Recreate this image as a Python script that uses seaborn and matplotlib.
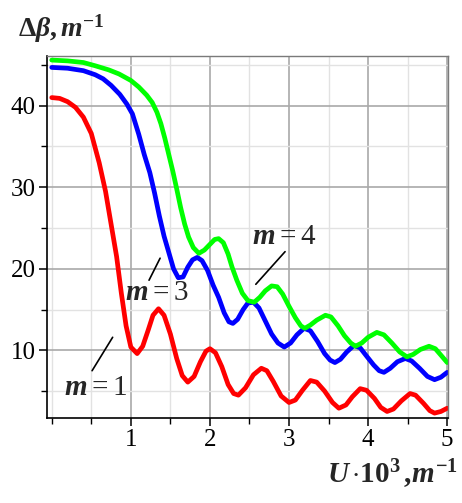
import numpy as np
import pandas as pd
import matplotlib
matplotlib.use("Agg")
import matplotlib.pyplot as plt
import seaborn as sns
from matplotlib.ticker import MultipleLocator, FixedLocator

# ---- data ----
x_m1 = [0.00, 0.10, 0.20, 0.30, 0.40, 0.50, 0.60, 0.68, 0.75, 0.82, 0.88, 0.94, 1.00, 1.08,
        1.15, 1.22, 1.28, 1.35, 1.42, 1.50, 1.58, 1.65, 1.72, 1.80, 1.88, 1.95, 2.00, 2.07,
        2.15, 2.23, 2.30, 2.36, 2.45, 2.55, 2.65, 2.72, 2.80, 2.90, 3.00, 3.08, 3.17, 3.27,
        3.35, 3.45, 3.55, 3.63, 3.72, 3.80, 3.90, 3.98, 4.08, 4.16, 4.24, 4.32, 4.42, 4.53,
        4.60, 4.70, 4.78, 4.84, 4.92, 5.00]
y_m1 = [41.0, 40.9, 40.5, 39.8, 38.6, 36.6, 33.0, 29.5, 25.5, 21.5, 17.0, 13.0, 10.4, 9.6,
        10.5, 12.5, 14.3, 15.1, 14.3, 12.0, 9.0, 6.9, 6.1, 6.8, 8.6, 9.9, 10.2, 9.7,
        8.0, 5.8, 4.7, 4.5, 5.4, 7.0, 7.8, 7.5, 6.2, 4.4, 3.6, 3.9, 5.1, 6.3,
        6.1, 5.0, 3.6, 2.9, 3.3, 4.3, 5.3, 5.1, 4.1, 3.0, 2.5, 2.8, 3.8, 4.7,
        4.5, 3.5, 2.6, 2.3, 2.5, 2.9]

x_m3 = [0.00, 0.20, 0.40, 0.55, 0.65, 0.75, 0.86, 0.95, 1.02, 1.10, 1.17, 1.24, 1.30, 1.36,
        1.42, 1.48, 1.54, 1.60, 1.66, 1.72, 1.78, 1.84, 1.90, 1.97, 2.04, 2.11, 2.18, 2.24,
        2.29, 2.35, 2.42, 2.48, 2.55, 2.62, 2.70, 2.78, 2.86, 2.94, 3.02, 3.10, 3.19, 3.27,
        3.36, 3.45, 3.52, 3.58, 3.65, 3.73, 3.82, 3.90, 3.98, 4.07, 4.14, 4.20, 4.28, 4.37,
        4.47, 4.55, 4.65, 4.75, 4.84, 4.92, 5.00]
y_m3 = [44.7, 44.6, 44.3, 43.8, 43.3, 42.5, 41.4, 40.2, 39.0, 36.5, 34.0, 31.8, 29.3, 26.5,
        24.0, 22.0, 20.0, 18.9, 19.0, 20.2, 21.1, 21.4, 21.0, 19.8, 18.0, 16.5, 14.6, 13.5,
        13.3, 13.8, 15.0, 15.8, 15.9, 15.2, 13.6, 12.0, 10.9, 10.4, 10.9, 11.9, 12.7, 12.4,
        11.1, 9.6, 8.8, 8.5, 8.9, 9.8, 10.6, 10.3, 9.3, 8.2, 7.5, 7.3, 7.8, 8.6,
        9.0, 8.7, 7.8, 6.8, 6.4, 6.7, 7.3]

x_m4 = [0.00, 0.20, 0.40, 0.55, 0.72, 0.85, 1.00, 1.10, 1.20, 1.27, 1.33, 1.38, 1.43, 1.48,
        1.53, 1.58, 1.63, 1.68, 1.73, 1.79, 1.86, 1.93, 2.00, 2.06, 2.11, 2.17, 2.23, 2.28,
        2.34, 2.41, 2.48, 2.56, 2.63, 2.70, 2.78, 2.85, 2.92, 3.00, 3.08, 3.15, 3.20, 3.27,
        3.35, 3.46, 3.53, 3.62, 3.70, 3.78, 3.84, 3.92, 4.00, 4.11, 4.20, 4.30, 4.40, 4.49,
        4.57, 4.66, 4.77, 4.85, 4.93, 5.00]
y_m4 = [45.6, 45.5, 45.3, 44.9, 44.4, 43.9, 43.1, 42.3, 41.3, 40.4, 39.2, 37.8, 36.0, 34.0,
        32.0, 29.8, 27.5, 25.5, 23.9, 22.6, 21.9, 22.3, 23.0, 23.6, 23.7, 23.2, 21.8, 20.2,
        18.6, 17.0, 16.1, 15.9, 16.5, 17.3, 17.9, 17.8, 16.9, 15.4, 14.0, 13.0, 12.7, 13.1,
        13.7, 14.3, 14.1, 13.0, 11.8, 10.9, 10.5, 10.9, 11.6, 12.2, 11.9, 10.9, 9.8, 9.2,
        9.5, 10.1, 10.5, 10.2, 9.3, 8.5]

series_names = ["m=1", "m=3", "m=4"]
series_colors = ["#ff0000", "#0000ff", "#00ff00"]
x_ticks = [1, 2, 3, 4, 5]
y_ticks = [10, 20, 30, 40]

df = pd.concat([
    pd.DataFrame({"U": x_m1, "dbeta": y_m1, "m": "m=1"}),
    pd.DataFrame({"U": x_m3, "dbeta": y_m3, "m": "m=3"}),
    pd.DataFrame({"U": x_m4, "dbeta": y_m4, "m": "m=4"}),
], ignore_index=True)

sns.set_theme(style="white")
plt.rcParams["mathtext.fontset"] = "custom"
plt.rcParams["mathtext.rm"] = "Liberation Serif"
plt.rcParams["mathtext.it"] = "Liberation Serif:italic:bold"
plt.rcParams["mathtext.bf"] = "Liberation Serif:bold"

fig = plt.figure(figsize=(4.62, 5.03), dpi=100)
ax = fig.add_axes([47/462, 1-418/503, (448-47)/462, (418-56)/503])

sns.lineplot(data=df, x="U", y="dbeta", hue="m", palette=dict(zip(series_names, series_colors)),
             linewidth=3.4, ax=ax, legend=False, sort=False, estimator=None)

ax.set_xlim(-0.06, 5.01)
ax.set_ylim(1.7, 46.1)

ax.xaxis.set_major_locator(FixedLocator(x_ticks))
ax.xaxis.set_minor_locator(MultipleLocator(0.5))
ax.yaxis.set_major_locator(FixedLocator(y_ticks))
ax.yaxis.set_minor_locator(MultipleLocator(5))
ax.set_xticklabels([str(v) for v in x_ticks])
ax.set_yticklabels([str(v) for v in y_ticks])

ax.grid(which="major", color="#a9a9a9", linewidth=1.2)
ax.grid(which="minor", color="#e2e2e2", linewidth=1.0)
ax.set_axisbelow(True)

for side in ["left", "bottom"]:
    ax.spines[side].set_color("black")
    ax.spines[side].set_linewidth(1.2)
for side in ["top", "right"]:
    ax.spines[side].set_color("#7a7a7a")
    ax.spines[side].set_linewidth(1.0)

ax.tick_params(which="major", direction="out", length=6, width=1.1, color="black",
               left=True, bottom=True, pad=2)
ax.tick_params(which="minor", direction="out", length=4, width=1.0, color="black",
               left=True, bottom=True)
for lab in ax.get_xticklabels() + ax.get_yticklabels():
    lab.set_fontfamily("Liberation Serif")
    lab.set_fontsize(18)
    lab.set_color("black")

ax.set_xlabel("")
ax.set_ylabel("")

# axis titles
fig.text(18/462, 1-37/503, r"$\mathbf{\Delta}\beta\mathbf{,}\,m^{\mathbf{-1}}$",
         fontsize=20, ha="left", va="baseline")
fig.text(458/462, 1-483/503,
         r"$U\,\mathbf{\cdot 10}^{\mathbf{3}}\,\mathbf{,}m^{\mathbf{-1}}$",
         fontsize=21, ha="right", va="baseline")

# curve labels
ax.plot([0.51, 0.77], [7.5, 11.6], color="black", lw=1.2)
ax.plot([1.23, 1.37], [18.6, 21.3], color="black", lw=1.2)
ax.plot([2.58, 2.95], [18.1, 22.1], color="black", lw=1.2)
ax.text(0.16, 5.5, r"$m=1$", fontsize=21, ha="left", va="center")
ax.text(0.92, 17.1, r"$m=3$", fontsize=21, ha="left", va="center")
ax.text(2.53, 24.0, r"$m=4$", fontsize=21, ha="left", va="center")

fig.savefig("out.png", dpi=100)
